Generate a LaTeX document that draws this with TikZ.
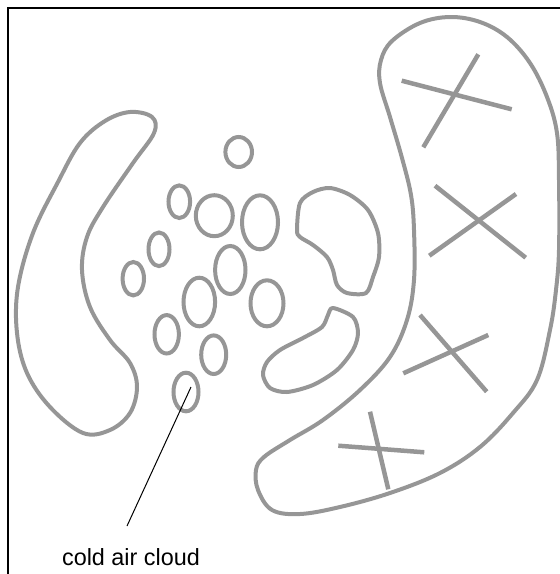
\documentclass[tikz,border=0pt]{standalone}
\usepackage{fontspec}
\setmainfont{Liberation Sans}
\usepackage{tikz}
\usetikzlibrary{shapes,positioning}
\definecolor{cloudgray}{HTML}{969696}
\tikzstyle{blob}=[draw=cloudgray, line width=4pt, line join=round]
\tikzstyle{cell}=[ellipse, draw=cloudgray, line width=4pt, inner sep=0pt]
\tikzstyle{crossline}=[draw=cloudgray, line width=4.5pt]
\tikzstyle{leader}=[black, line width=1pt]
\tikzstyle{lab}=[font=\fontsize{23.4}{28}\selectfont, inner sep=3pt]

\begin{document}
\begin{tikzpicture}[x=1pt, y=-1pt]
          \useasboundingbox (0,0) rectangle (560,574);
          \draw[black, line width=2pt] (7.5,574) -- (7.5,8) -- (560,8);
          %
          % left crescent
          \draw[blob] plot[smooth cycle, tension=0.6] coordinates {
            (152,117) (130,112) (105,121) (80,143) (58,182) (33,233) (18,287)
            (17,333) (27,373) (50,407) (83,433) (110,430) (130,413) (137,387)
            (130,363) (110,340) (90,307) (82,270) (87,237) (103,207) (133,163)
            (154,133)};
          % middle blobs
          \draw[blob] plot[smooth cycle, tension=0.5] coordinates {
            (297,230) (300,203) (313,192) (330,188) (350,195) (368,210) (378,233)
            (379,257) (373,277) (366,293) (347,293) (337,285) (333,270) (327,257)
            (313,245) (300,237)};
          \draw[blob] plot[smooth cycle, tension=0.5] coordinates {
            (333,308) (353,317) (358,333) (353,350) (337,370) (313,385) (287,392)
            (270,388) (263,375) (267,362) (280,350) (303,338) (322,327) (328,315)};
          % big crescent
          \draw[blob] plot[smooth cycle, tension=0.6] coordinates {
            (450,17) (480,22) (507,37) (530,63) (547,97) (557,133) (559,180)
            (559,250) (556,290) (550,330) (537,380) (513,413) (480,447) (440,473)
            (390,493) (340,507) (300,514) (272,510) (258,490) (256,470) (264,457)
            (290,440) (323,420) (360,390) (390,357) (407,320) (414,280) (414,230)
            (411,195) (402,158) (390,117) (380,83) (381,60) (392,41) (420,23)};
          \foreach \ax/\ay/\bx/\by/\cx/\cy/\dx/\dy in {
              401.7/80.7/511.7/109.3/478.3/54.3/423.3/147.3,
              435/185.7/525.7/257.7/516/194/429.3/255.7,
              420/315/486.7/391.7/488.3/335/403.3/373.3,
              370/411.7/388.3/489.3/338.3/445.7/424.3/452.3}
            {\draw[crossline] (\ax,\ay) -- (\bx,\by);
             \draw[crossline] (\cx,\cy) -- (\dx,\dy);}
          %
          % cold air cloud cells
          \node at (238.7,152) [cell, minimum width=26.6pt, minimum height=30pt] (c1) {};
          \node at (179.3,201.7) [cell, minimum width=21.6pt, minimum height=32.6pt] (c2) {};
          \node at (214.3,215.7) [cell, minimum width=37pt, minimum height=41pt] (c3) {};
          \node at (260,222.3) [cell, minimum width=36pt, minimum height=54pt] (c4) {};
          \node at (159,249.3) [cell, minimum width=21pt, minimum height=33.6pt] (c5) {};
          \node at (133.3,278.7) [cell, minimum width=21.4pt, minimum height=33.4pt] (c6) {};
          \node at (230.3,270) [cell, minimum width=30.4pt, minimum height=48pt] (c7) {};
          \node at (199.3,302) [cell, minimum width=31.6pt, minimum height=48.6pt] (c8) {};
          \node at (267,303.3) [cell, minimum width=33pt, minimum height=46pt] (c9) {};
          \node at (166.7,334.3) [cell, minimum width=24.4pt, minimum height=38.4pt] (c10) {};
          \node at (213.7,354.7) [cell, minimum width=25pt, minimum height=38.6pt] (c11) {};
          \node at (186,392) [cell, minimum width=25pt, minimum height=38.6pt] (c12) {};
          %
          \coordinate (lead) at (127,526);
          \node [lab, below=19pt of lead, xshift=4pt] (cac) {cold air cloud};
          \draw[leader] ([xshift=5pt, yshift=5pt]c12.center) -- (lead);
          %
        \end{tikzpicture}
\end{document}
